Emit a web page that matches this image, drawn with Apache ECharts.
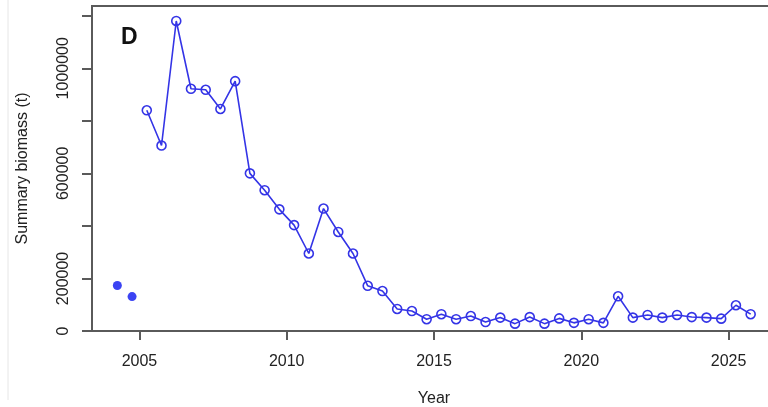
<!DOCTYPE html>
<html>
<head>
<meta charset="utf-8">
<script src="https://cdn.jsdelivr.net/npm/echarts@6/dist/echarts.min.js"></script>
<style>
  html, body { margin: 0; padding: 0; background: #fff; }
  #chart { width: 768px; height: 407px; }
</style>
</head>
<body>
<div id="chart"></div>
<script>
// Survey-period years (half-year steps) and summary biomass (t)
var surveyYears = [
  2005.25, 2005.75, 2006.25, 2006.75, 2007.25, 2007.75, 2008.25, 2008.75,
  2009.25, 2009.75, 2010.25, 2010.75, 2011.25, 2011.75, 2012.25, 2012.75,
  2013.25, 2013.75, 2014.25, 2014.75, 2015.25, 2015.75, 2016.25, 2016.75,
  2017.25, 2017.75, 2018.25, 2018.75, 2019.25, 2019.75, 2020.25, 2020.75,
  2021.25, 2021.75, 2022.25, 2022.75, 2023.25, 2023.75, 2024.25, 2024.75,
  2025.25, 2025.75
];
var summaryBiomass = [
  840000, 706000, 1180000, 922000, 918000, 845000, 951000, 600000,
  536000, 463000, 403000, 295000, 466000, 377000, 295000, 172000,
  152000, 84000, 76000, 45000, 64000, 45000, 57000, 34000,
  51000, 28000, 53000, 28000, 48000, 31000, 45000, 31000,
  132000, 51000, 61000, 51000, 61000, 53000, 51000, 47000,
  98000, 64000
];

// Earlier estimates shown as solid points
var earlyYears = [2004.25, 2004.75];
var earlyBiomass = [173000, 131000];

// Axis ticks and labels
var xTicks = [2005, 2010, 2015, 2020, 2025];
var yTicks = [0, 200000, 400000, 600000, 800000, 1000000, 1200000];
var yLabels = [0, 200000, 600000, 1000000];

var lineBlue = '#3434e6';
var axisGray = '#5a5a5a';
var textColor = '#222';
var font = 'Liberation Sans, Arial, sans-serif';

function pairs(xs, ys) {
  return xs.map(function (x, i) { return [x, ys[i]]; });
}

var chart = echarts.init(document.getElementById('chart'), null, { renderer: 'canvas' });

chart.setOption({
  animation: false,
  backgroundColor: '#fff',
  title: {
    text: 'D',
    left: 116,
    top: 21,
    textStyle: { fontFamily: font, fontWeight: 'bold', fontSize: 23, color: '#111' }
  },
  graphic: [{
    type: 'line',
    shape: { x1: 8, y1: 0, x2: 8, y2: 400 },
    style: { stroke: '#e6e6e6', lineWidth: 1 },
    silent: true
  }],
  grid: {
    left: 92,
    top: 6,
    width: 684,
    height: 325,
    outerBoundsMode: 'none',
    containLabel: false,
    show: true,
    borderColor: axisGray,
    borderWidth: 2,
    backgroundColor: 'transparent'
  },
  xAxis: {
    type: 'value',
    min: 2003.39,
    max: 2026.61,
    name: 'Year',
    nameLocation: 'middle',
    nameGap: 60,
    nameTextStyle: { fontFamily: font, fontSize: 16, color: textColor },
    splitLine: { show: false },
    axisLine: { show: true, lineStyle: { color: axisGray, width: 2 } },
    axisTick: {
      show: true,
      length: 9,
      customValues: xTicks,
      lineStyle: { color: axisGray, width: 2 }
    },
    axisLabel: {
      customValues: xTicks,
      margin: 23,
      fontFamily: font,
      fontSize: 16,
      color: textColor,
      formatter: function (v) { return String(Math.round(v)); }
    }
  },
  yAxis: {
    type: 'value',
    min: 0,
    max: 1237000,
    name: 'Summary biomass (t)',
    nameLocation: 'middle',
    nameGap: 61,
    nameTextStyle: { fontFamily: font, fontSize: 16, color: textColor },
    splitLine: { show: false },
    axisLine: { show: true, lineStyle: { color: axisGray, width: 2 } },
    axisTick: {
      show: true,
      length: 10,
      customValues: yTicks,
      lineStyle: { color: axisGray, width: 2 }
    },
    axisLabel: {
      customValues: yLabels,
      rotate: 90,
      margin: 20,
      fontFamily: font,
      fontSize: 16,
      color: textColor,
      formatter: function (v) { return String(Math.round(v)); }
    }
  },
  series: [
    {
      name: 'Summary biomass',
      type: 'line',
      data: pairs(surveyYears, summaryBiomass),
      symbol: 'circle',
      symbolSize: 9,
      showAllSymbol: true,
      lineStyle: { color: lineBlue, width: 1.6 },
      itemStyle: { color: 'rgba(0,0,0,0)', borderColor: lineBlue, borderWidth: 1.6 },
      z: 3
    },
    {
      name: 'Earlier estimates',
      type: 'scatter',
      data: pairs(earlyYears, earlyBiomass),
      symbol: 'circle',
      symbolSize: 9,
      itemStyle: { color: '#0a14f0' },
      z: 3
    }
  ]
});
</script>
</body>
</html>
